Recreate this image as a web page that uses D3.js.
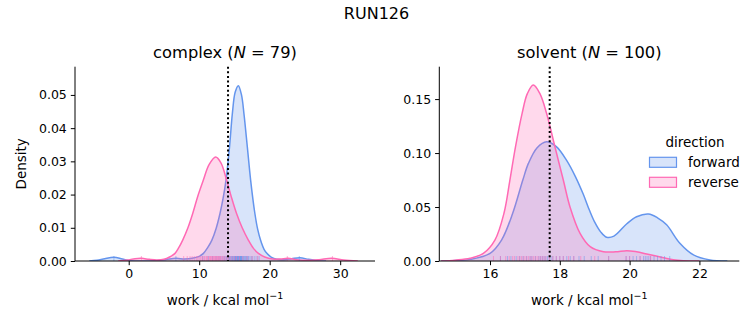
<!DOCTYPE html>
<html><head><meta charset="utf-8">
<script src="https://cdn.jsdelivr.net/npm/d3@7"></script>
<style>
body{margin:0;background:#fff;}
text{font-family:"DejaVu Sans",sans-serif;fill:#000;}
</style></head>
<body><svg id="c" width="753" height="325"></svg>
<script>
// ---------- DATA ----------
const suptitle = "RUN126";
const panelNames = ["complex", "solvent"];
const panelN = [79, 100];
const refLines = [14.09, 17.71];
const directions = ["forward", "reverse"];

// complex – density curves [x, density]
const complexForward = [[-5.6,0],[-4.5,0.0002],[-3.4,0.0007],[-2.1,0.0011],[-0.9,0.0006],[0.3,0.0001],[1.8,0.0000],[3.6,0.0001],[5.2,0.0004],[6.7,0.0008],[7.9,0.0006],[9.0,0.0008],[10.0,0.0014],[10.6,0.0023],[11.2,0.0040],[11.8,0.0063],[12.4,0.0098],[12.95,0.0143],[13.4,0.0190],[13.8,0.0243],[14.3,0.0343],[14.7,0.0443],[15.1,0.0508],[15.55,0.0528],[16.0,0.0500],[16.35,0.0443],[16.83,0.0343],[17.3,0.0243],[17.9,0.0143],[18.3,0.0095],[18.7,0.0063],[19.2,0.0035],[19.6,0.0023],[20.2,0.0012],[21.0,0.0005],[22.0,0.0004],[23.1,0.0007],[24.3,0.0010],[25.5,0.0005],[26.8,0.0001],[28.0,0]];
const complexReverse = [[-1.5,0],[-0.2,0.0003],[0.9,0.0007],[1.84,0.0008],[2.9,0.0005],[4.0,0.0003],[5.0,0.0005],[5.8,0.0012],[6.57,0.0023],[7.1,0.0040],[7.66,0.0063],[8.4,0.0100],[9.08,0.0143],[9.8,0.0195],[10.58,0.0243],[11.4,0.0290],[12.34,0.0313],[13.1,0.0295],[13.9,0.0243],[14.6,0.0190],[15.3,0.0143],[16.1,0.0100],[16.97,0.0063],[17.7,0.0038],[18.4,0.0023],[19.3,0.0012],[20.4,0.0006],[21.5,0.0006],[22.6,0.0008],[23.8,0.0004],[25.3,0.0002],[27.0,0.0004],[28.8,0.0008],[30.5,0.0003],[32.5,0]];
// complex – rug samples
const complexForwardRug = [-2.1,6.7,10.5,11.3,11.9,12.4,12.8,13.1,13.4,13.6,13.8,13.9,14.1,14.2,14.3,14.4,14.5,14.6,14.7,14.75,14.8,14.9,15.0,15.05,15.1,15.15,15.2,15.25,15.3,15.35,15.4,15.45,15.5,15.55,15.6,15.65,15.7,15.75,15.8,15.85,15.9,15.95,16.0,16.05,16.1,16.2,16.3,16.4,16.5,16.6,16.7,16.8,16.9,17.0,17.2,17.4,17.6,17.9,18.2,18.5,24.2];
const complexReverseRug = [1.8,7.8,8.3,8.7,9.0,9.3,9.6,9.8,10.0,10.2,10.4,10.5,10.7,10.8,11.0,11.1,11.2,11.4,11.5,11.6,11.7,11.8,11.9,12.0,12.1,12.2,12.3,12.4,12.5,12.6,12.7,12.8,12.9,13.0,13.1,13.3,13.4,13.6,13.8,14.0,14.2,14.4,14.7,15.0,15.3,15.7,16.2,16.8,17.5,18.3,22.5,28.9];

// solvent – density curves [x, density]
const solventForward = [[14.6,0],[15.0,0.0004],[15.43,0.0015],[16.0,0.0071],[16.33,0.0194],[16.65,0.0442],[16.94,0.075],[17.1,0.0904],[17.35,0.105],[17.62,0.1105],[17.9,0.106],[18.2,0.093],[18.45,0.078],[18.67,0.062],[18.85,0.047],[19.0,0.036],[19.17,0.027],[19.34,0.022],[19.55,0.023],[19.92,0.0345],[20.2,0.041],[20.54,0.0435],[20.8,0.040],[21.06,0.0335],[21.44,0.0164],[21.83,0.0056],[22.3,0.0009],[22.8,0]];
const solventReverse = [[14.6,0],[15.0,0.0008],[15.43,0.0025],[15.81,0.0071],[16.14,0.0194],[16.4,0.0442],[16.57,0.075],[16.73,0.1058],[16.92,0.1368],[17.07,0.155],[17.24,0.163],[17.43,0.155],[17.62,0.1368],[17.86,0.1058],[18.1,0.075],[18.29,0.0503],[18.58,0.0256],[18.87,0.0133],[19.25,0.0086],[19.6,0.0085],[19.92,0.0096],[20.2,0.0085],[20.49,0.0065],[20.97,0.0031],[21.25,0.0012],[21.54,0.0003],[22.0,0]];
// solvent – rug samples
const solventForwardRug = [16.3,16.5,16.6,16.75,16.85,16.95,17.05,17.15,17.2,17.3,17.4,17.45,17.5,17.55,17.6,17.65,17.7,17.75,17.8,17.9,18.0,18.1,18.2,18.3,18.4,18.55,18.7,18.9,19.1,19.4,19.9,20.0,20.1,20.2,20.3,20.4,20.45,20.5,20.55,20.6,20.7,20.8,20.9,21.0,21.15];
const solventReverseRug = [16.1,16.3,16.45,16.55,16.65,16.7,16.8,16.85,16.9,16.95,17.0,17.05,17.1,17.15,17.2,17.25,17.3,17.35,17.4,17.45,17.5,17.55,17.6,17.7,17.8,17.9,18.0,18.1,18.25,18.4,18.6,19.0,19.4,19.9,20.0,20.3,20.6];

// axes ticks
const complexXTicks = [0,10,20,30];
const complexYTicks = [0,0.01,0.02,0.03,0.04,0.05];
const solventXTicks = [16,18,20,22];
const solventYTicks = [0,0.05,0.10,0.15];

// ---------- STYLE / LAYOUT ----------
const colors = {forward:"#6495ED", reverse:"#FF69B4"};
const panels = [
  {name:panelNames[0], N:panelN[0], ref:refLines[0], left:75, right:375, xDom:[-7.62,34.94], yDom:[0,0.0585],
   curves:{forward:complexForward, reverse:complexReverse}, rugs:{forward:complexForwardRug, reverse:complexReverseRug},
   xt:complexXTicks, yt:complexYTicks, yfmt:d3.format(".2f"), ylabel:"Density"},
  {name:panelNames[1], N:panelN[1], ref:refLines[1], left:439.3, right:739.3, xDom:[14.547,23.143], yDom:[0,0.18],
   curves:{forward:solventForward, reverse:solventReverse}, rugs:{forward:solventForwardRug, reverse:solventReverseRug},
   xt:solventXTicks, yt:solventYTicks, yfmt:d3.format(".2f"), ylabel:null}
];
const axTop = 66.7, axBottom = 261;
const svg = d3.select("#c");

svg.append("text").attr("x",376.5).attr("y",19).attr("text-anchor","middle")
  .style("font-size","16px").text(suptitle);

panels.forEach((p,i)=>{
  const x = d3.scaleLinear().domain(p.xDom).range([p.left,p.right]);
  const y = d3.scaleLinear().domain(p.yDom).range([axBottom,axTop]);
  const g = svg.append("g");
  const clipId = "clip"+i;
  svg.append("clipPath").attr("id",clipId).append("rect")
    .attr("x",p.left).attr("y",axTop).attr("width",p.right-p.left).attr("height",axBottom-axTop);
  const plot = g.append("g").attr("clip-path",`url(#${clipId})`);

  const crv = d3.curveCatmullRom.alpha(0.5);
  const area = d3.area().x(d=>x(d[0])).y0(y(0)).y1(d=>y(d[1])).curve(crv);
  const line = d3.line().x(d=>x(d[0])).y(d=>y(d[1])).curve(crv);
  directions.forEach(dir=>{
    plot.append("path").datum(p.curves[dir]).attr("d",area)
      .attr("fill",colors[dir]).attr("fill-opacity",0.25).attr("stroke","none");
    plot.append("path").datum(p.curves[dir]).attr("d",line)
      .attr("fill","none").attr("stroke",colors[dir]).attr("stroke-width",1.5);
  });
  directions.forEach(dir=>{
    plot.selectAll(null).data(p.rugs[dir]).enter().append("line")
      .attr("x1",d=>x(d)).attr("x2",d=>x(d)).attr("y1",y(0)).attr("y2",y(0)-5)
      .attr("stroke",colors[dir]).attr("stroke-opacity",0.5).attr("stroke-width",1);
  });
  // reference line
  g.append("line").attr("x1",x(p.ref)).attr("x2",x(p.ref)).attr("y1",axTop).attr("y2",axBottom)
    .attr("stroke","#000").attr("stroke-width",2).attr("stroke-dasharray","2,2.6");

  // axes
  const xa = g.append("g").attr("transform",`translate(0,${axBottom})`)
    .call(d3.axisBottom(x).tickValues(p.xt).tickSize(4.2).tickPadding(4).tickFormat(d3.format("d")));
  const ya = g.append("g").attr("transform",`translate(${p.left},0)`)
    .call(d3.axisLeft(y).tickValues(p.yt).tickSize(4.2).tickPadding(4).tickFormat(p.yfmt));
  [xa,ya].forEach(a=>{
    a.select(".domain").attr("stroke","#000").attr("stroke-width",1);
    a.selectAll(".tick line").attr("stroke","#000").attr("stroke-width",1);
    a.selectAll("text").style("font-size","12.5px").attr("fill","#000").style("font-family","DejaVu Sans");
  });
  ya.select(".domain").attr("d",`M0,${axBottom}V${axTop}`);
  xa.select(".domain").attr("d",`M${p.left},0H${p.right}`);

  // title
  const cx = (p.left+p.right)/2;
  const t = g.append("text").attr("x",cx).attr("y",58).attr("text-anchor","middle").style("font-size","16.3px");
  t.append("tspan").text(p.name+" (");
  t.append("tspan").style("font-style","italic").text("N");
  t.append("tspan").text(" = "+p.N+")");

  // x label
  const xl = g.append("text").attr("x",cx).attr("y",305).attr("text-anchor","middle").style("font-size","13.5px");
  xl.append("tspan").text("work / kcal mol");
  xl.append("tspan").attr("dy",-6).style("font-size","9.5px").text("\u22121");

  if(p.ylabel){
    g.append("text").attr("transform",`translate(26,${(axTop+axBottom)/2}) rotate(-90)`)
      .attr("text-anchor","middle").style("font-size","13.5px").text(p.ylabel);
  }
});

// legend
const lg = svg.append("g");
lg.append("text").attr("x",695).attr("y",146.5).attr("text-anchor","middle").style("font-size","13.5px").text("direction");
directions.forEach((dir,k)=>{
  const yy = 157.3 + k*20;
  lg.append("rect").attr("x",649.5).attr("y",yy).attr("width",27).attr("height",10)
    .attr("fill",colors[dir]).attr("fill-opacity",0.25).attr("stroke",colors[dir]).attr("stroke-width",1.2);
  lg.append("text").attr("x",688).attr("y",yy+9.5).style("font-size","13.5px").text(dir);
});
</script></body></html>
